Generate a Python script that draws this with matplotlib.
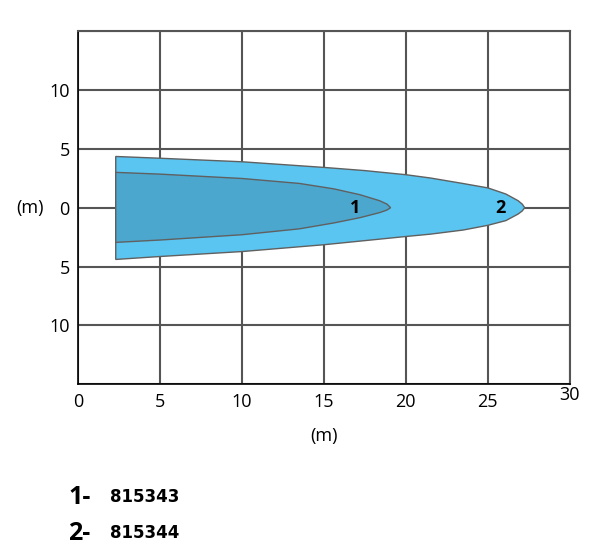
import matplotlib.pyplot as plt
from matplotlib.transforms import ScaledTranslation

plt.rcParams['font.family'] = ['Open Sans', 'DejaVu Sans']

# beam outlines (metres)
outer_x_top = [2.3, 5, 10, 15, 17.5, 20, 21.5, 23.5, 25, 26.1, 26.85, 27.1, 27.25]
outer_y_top = [4.35, 4.2, 3.9, 3.42, 3.15, 2.8, 2.52, 2.05, 1.68, 1.16, 0.59, 0.3, 0.0]
outer_x_bot = [2.3, 5, 10, 15, 20, 21.5, 23.5, 25, 26.1, 26.85, 27.1, 27.25]
outer_y_bot = [-4.4, -4.15, -3.73, -3.15, -2.45, -2.25, -1.9, -1.5, -1.1, -0.54, -0.28, 0.0]

inner_x_top = [2.3, 5, 10, 13.5, 15.6, 17.2, 18.4, 18.85, 19.07]
inner_y_top = [3.0, 2.85, 2.48, 2.06, 1.6, 1.1, 0.59, 0.3, 0.0]
inner_x_bot = [2.3, 5, 10, 13.5, 15.6, 17.2, 18.4, 18.85, 19.07]
inner_y_bot = [-2.95, -2.75, -2.3, -1.8, -1.3, -0.85, -0.42, -0.2, 0.0]

xticks = [0, 5, 10, 15, 20, 25, 30]
yticks = [-15, -10, -5, 0, 5, 10, 15]
ytick_labels = ['', '10', '5', '0', '5', '10', '']
labels = ['1', '2']
label_x = [16.9, 25.8]
codes = ['815343', '815344']

fig = plt.figure(figsize=(6.12, 5.56), dpi=100)
ax = fig.add_axes([0.1275, 0.309, 0.8035, 0.635])

outer_x = outer_x_top + outer_x_bot[::-1]
outer_y = outer_y_top + outer_y_bot[::-1]
inner_x = inner_x_top + inner_x_bot[::-1]
inner_y = inner_y_top + inner_y_bot[::-1]
ax.fill(outer_x, outer_y, facecolor='#5AC5F1', edgecolor='#606060', lw=1.0, zorder=3)
ax.fill(inner_x, inner_y, facecolor='#4CA7CE', edgecolor='#606060', lw=1.0, zorder=4)

for lab, lx in zip(labels, label_x):
    ax.text(lx, 0, lab, fontsize=13, fontweight='bold', ha='center', va='center', zorder=5)

ax.set_xlim(0, 30)
ax.set_ylim(-15, 15)
ax.set_xticks(xticks)
ax.set_yticks(yticks)
ax.set_yticklabels(ytick_labels)
ax.grid(True, color='#555555', lw=1.5)
ax.set_axisbelow(True)
ax.tick_params(length=0, labelsize=13, pad=6, colors='black')
for s in ['top', 'right']:
    ax.spines[s].set_color('#555555')
    ax.spines[s].set_linewidth(1.5)
for s in ['left', 'bottom']:
    ax.spines[s].set_color('black')
    ax.spines[s].set_linewidth(1.2)

# the "30" label sits a little higher in the original
last = ax.get_xticklabels()[-1]
last.set_transform(last.get_transform() + ScaledTranslation(0, 5 / 72, fig.dpi_scale_trans))

ax.set_xlabel('(m)', fontsize=13, labelpad=12)
ax.text(-0.07, 0.5, '(m)', transform=ax.transAxes, fontsize=13, ha='right', va='center')

# legend text underneath
for i, (lab, code) in enumerate(zip(labels, codes)):
    y = 1 - (497 + 36 * i) / 556
    fig.text(68 / 612, y, lab + '-', fontsize=18, fontweight='bold', va='center')
    fig.text(110 / 612, y, code, fontsize=12, fontweight='bold', va='center',
             family='DejaVu Sans')

fig.savefig('out.png', dpi=100)
